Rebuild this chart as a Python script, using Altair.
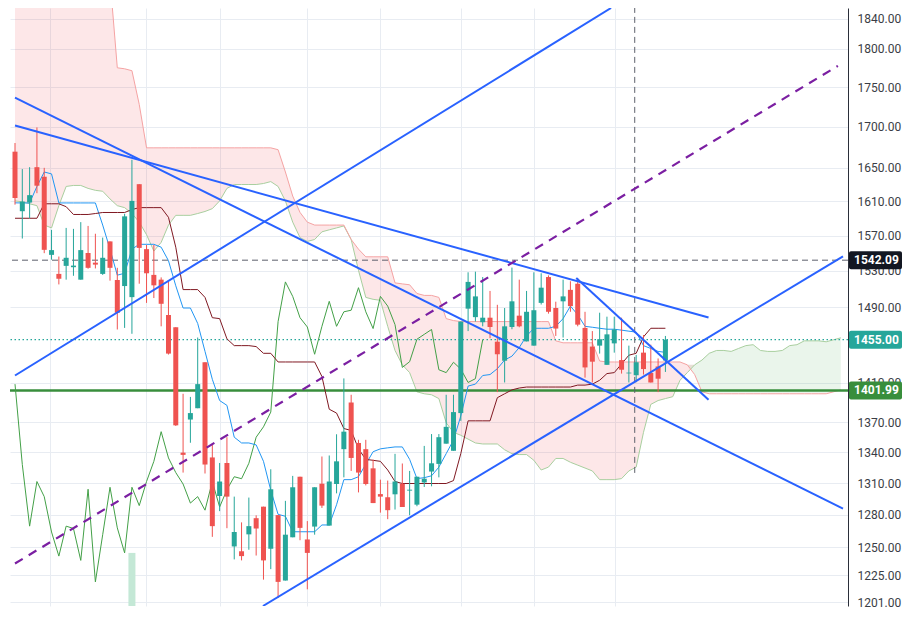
import altair as alt
import pandas as pd

# ---------------- data (prices) ----------------
opens = [1669.4, 1598.3, 1608.5, 1650.6, 1639.1, 1548.1, 1526.7, 1535.7, 1534.2, 1520.3,
         1550.2, 1539.3, 1526.7, 1563.4, 1519.9, 1513.2, 1501.0, 1630.2, 1554.6, 1525.6,
         1520.3, 1481.5, 1468.3, 1339.7, 1372.5, 1383.9, 1431.2, 1335.0, 1297.9, 1329.6,
         1250.9, 1246.5, 1262.0, 1277.0, 1287.8, 1248.8, 1279.9, 1220.1, 1259.3, 1316.3,
         1257.3, 1269.2, 1309.6, 1270.1, 1309.3, 1343.1, 1389.7, 1349.2, 1343.1, 1324.4,
         1299.7, 1296.7, 1299.5, 1309.6, 1303.0, 1289.7, 1310.8, 1321.3, 1328.7, 1348.5,
         1341.5, 1379.0, 1488.4, 1479.2, 1473.7, 1478.6, 1452.9, 1432.8, 1468.6, 1480.8,
         1453.2, 1448.7, 1494.7, 1523.2, 1489.1, 1496.4, 1509.0, 1515.8, 1467.6, 1447.7,
         1448.7, 1428.5, 1451.1, 1433.5, 1419.6, 1417.7, 1441.3, 1420.1, 1426.8, 1433.1]
closes = [1613.8, 1609.6, 1617.2, 1628.4, 1553.8, 1553.5, 1521.3, 1544.8, 1536.0, 1553.5,
          1533.5, 1537.1, 1544.8, 1533.5, 1483.9, 1592.3, 1610.4, 1556.0, 1527.4, 1514.0,
          1493.7, 1440.3, 1366.7, 1337.5, 1379.0, 1408.5, 1328.1, 1269.6, 1311.7, 1297.3,
          1264.2, 1242.1, 1269.6, 1267.4, 1238.2, 1304.3, 1218.9, 1261.7, 1306.2, 1268.0,
          1245.0, 1306.2, 1288.8, 1311.7, 1331.2, 1360.4, 1334.5, 1320.3, 1309.3, 1291.2,
          1297.3, 1284.5, 1311.7, 1287.5, 1303.9, 1316.3, 1314.4, 1329.3, 1354.9, 1365.2,
          1380.0, 1474.4, 1517.8, 1501.8, 1478.6, 1468.6, 1439.6, 1469.3, 1496.4, 1469.3,
          1485.0, 1486.7, 1511.4, 1485.0, 1466.9, 1501.8, 1491.2, 1471.1, 1425.8, 1431.8,
          1455.5, 1460.7, 1465.9, 1423.4, 1420.4, 1431.2, 1424.1, 1410.2, 1414.1, 1455.0]
highs = [1680.0, 1648.3, 1650.6, 1699.3, 1649.8, 1576.7, 1546.2, 1578.9, 1577.8, 1585.6,
         1581.2, 1572.2, 1567.8, 1563.4, 1533.5, 1595.3, 1659.6, 1630.2, 1559.3, 1559.3,
         1522.8, 1518.5, 1468.3, 1398.6, 1395.4, 1457.3, 1431.2, 1348.5, 1329.6, 1354.9,
         1297.3, 1273.1, 1296.4, 1279.7, 1287.8, 1323.5, 1279.9, 1293.3, 1317.1, 1316.3,
         1274.3, 1306.2, 1335.9, 1336.9, 1357.8, 1414.4, 1397.6, 1352.3, 1352.3, 1332.8,
         1313.5, 1312.6, 1338.5, 1329.1, 1321.9, 1316.3, 1346.3, 1358.0, 1358.0, 1397.6,
         1397.6, 1474.4, 1528.5, 1529.2, 1523.2, 1507.8, 1492.6, 1489.1, 1533.8, 1520.3,
         1507.8, 1528.5, 1527.4, 1525.0, 1496.0, 1520.3, 1518.5, 1522.1, 1485.0, 1464.2,
         1484.0, 1479.7, 1479.7, 1478.6, 1448.7, 1438.9, 1460.0, 1449.7, 1435.2, 1459.0]
lows = [1606.0, 1566.7, 1590.1, 1619.5, 1550.0, 1542.6, 1515.0, 1520.3, 1524.6, 1520.3,
        1532.5, 1532.8, 1525.6, 1519.2, 1465.9, 1467.6, 1461.3, 1515.8, 1494.7, 1500.0,
        1469.3, 1439.3, 1366.1, 1320.3, 1349.4, 1383.9, 1319.4, 1259.7, 1283.6, 1267.7,
        1239.1, 1238.2, 1247.9, 1242.6, 1220.9, 1230.3, 1204.6, 1220.1, 1259.3, 1256.6,
        1212.3, 1261.7, 1286.6, 1270.1, 1300.4, 1315.7, 1321.9, 1301.3, 1308.0, 1291.2,
        1282.2, 1276.1, 1285.1, 1287.5, 1279.7, 1288.2, 1306.5, 1307.1, 1315.7, 1348.5,
        1341.5, 1371.2, 1464.2, 1474.4, 1469.3, 1456.6, 1400.3, 1410.2, 1466.2, 1468.3,
        1453.2, 1448.7, 1492.9, 1483.0, 1459.0, 1457.3, 1485.0, 1469.3, 1415.2, 1410.2,
        1440.3, 1428.5, 1441.3, 1419.4, 1410.2, 1410.5, 1418.4, 1410.2, 1400.3, 1421.1]

tenkan = [1608.1, 1608.0, 1608.0, 1627.5, 1644.8, 1642.5, 1608.0, 1608.0, 1608.0, 1608.0,
          1608.0, 1608.0, 1582.2, 1554.6, 1525.3, 1527.4, 1554.6, 1560.1, 1560.1, 1560.1,
          1556.8, 1541.5, 1513.5, 1489.1, 1489.1, 1472.4, 1442.6, 1413.5, 1391.7, 1386.8,
          1354.9, 1349.2, 1349.2, 1347.3, 1331.2, 1303.4, 1280.6, 1278.8, 1264.4, 1264.4,
          1264.4, 1264.4, 1270.7, 1270.7, 1289.6, 1313.5, 1313.5, 1316.3, 1328.4, 1340.6,
          1343.4, 1344.4, 1345.3, 1345.3, 1333.1, 1314.5, 1315.4, 1317.2, 1325.6, 1338.7,
          1352.0, 1376.1, 1406.5, 1408.5, 1417.4, 1418.4, 1424.5, 1433.5, 1437.6, 1446.7,
          1459.0, 1467.2, 1467.2, 1467.2, 1469.3, 1477.6, 1491.2, 1481.8, 1469.3, 1468.3,
          1467.2, 1466.2, 1466.2, 1465.2, 1464.1, 1463.1, 1448.7, 1445.7, 1442.6, 1441.6]
kijun = [1590.1, 1590.1, 1590.1, 1590.1, 1607.0, 1607.0, 1607.0, 1603.6, 1594.5, 1594.5,
         1594.5, 1595.6, 1596.8, 1596.8, 1596.8, 1596.8, 1600.2, 1602.5, 1602.5, 1602.5,
         1602.5, 1591.2, 1556.8, 1509.3, 1509.3, 1509.3, 1500.7, 1478.6, 1477.6, 1455.9,
         1448.7, 1448.7, 1448.7, 1447.7, 1440.6, 1440.6, 1431.5, 1431.5, 1431.5, 1431.5,
         1431.5, 1431.5, 1416.4, 1382.9, 1379.0, 1363.5, 1361.6, 1343.4, 1333.1, 1332.2,
         1331.2, 1322.8, 1311.7, 1309.8, 1309.8, 1309.8, 1309.8, 1309.8, 1309.8, 1309.8,
         1312.6, 1338.7, 1371.2, 1371.2, 1371.2, 1371.2, 1394.6, 1398.6, 1402.6, 1404.5,
         1405.5, 1405.5, 1405.5, 1405.5, 1405.5, 1405.5, 1405.5, 1407.5, 1407.5, 1408.5,
         1412.5, 1419.4, 1420.4, 1429.5, 1438.6, 1440.6, 1458.0, 1467.2, 1467.2, 1467.2]

span_a = [1610.4, 1609.3, 1607.0, 1604.8, 1582.2, 1578.9, 1604.8, 1627.5, 1628.7, 1628.7,
          1625.2, 1622.9, 1621.8, 1612.7, 1604.8, 1602.5, 1595.6, 1585.6, 1571.1, 1552.4,
          1562.3, 1582.2, 1593.5, 1593.5, 1593.5, 1595.6, 1598.0, 1601.3, 1610.4, 1625.2,
          1629.8, 1629.8, 1629.8, 1629.8, 1631.0, 1633.3, 1627.5, 1610.4, 1585.6, 1567.8,
          1563.4, 1565.6, 1574.4, 1576.7, 1578.9, 1581.2, 1565.6, 1530.7, 1500.7, 1498.6,
          1497.5, 1469.3, 1443.6, 1428.5, 1420.4, 1400.6, 1398.6, 1397.6, 1393.7, 1369.3,
          1359.7, 1356.8, 1353.0, 1349.2, 1348.2, 1348.2, 1348.2, 1342.5, 1338.7, 1337.8,
          1337.8, 1332.2, 1322.8, 1325.6, 1334.0, 1334.0, 1330.3, 1327.5, 1324.7, 1321.9,
          1313.5, 1313.5, 1313.5, 1314.5, 1321.9, 1325.6, 1359.7, 1387.8, 1391.7, 1393.7,
          1395.6, 1412.5, 1420.4, 1428.5, 1433.5, 1440.6, 1443.6, 1443.6, 1442.6, 1445.7,
          1448.7, 1449.7, 1443.6, 1442.6, 1442.6, 1443.6, 1448.7, 1449.7, 1453.8, 1453.8,
          1453.8, 1452.8, 1454.9, 1457.0]
span_b = [1894.0, 1894.0, 1894.0, 1894.0, 1894.0, 1894.0, 1894.0, 1894.0, 1894.0, 1894.0,
          1894.0, 1894.0, 1894.0, 1894.0, 1775.0, 1773.7, 1771.2, 1728.1, 1674.1, 1674.1,
          1674.1, 1674.1, 1674.1, 1674.1, 1674.1, 1674.1, 1674.1, 1674.1, 1674.1, 1674.1,
          1674.1, 1674.1, 1674.1, 1674.1, 1674.1, 1674.1, 1671.8, 1644.8, 1616.1, 1596.9,
          1585.6, 1582.2, 1582.2, 1582.2, 1582.2, 1582.2, 1565.6, 1554.6, 1545.9, 1545.9,
          1545.9, 1545.9, 1516.7, 1515.6, 1514.6, 1505.0, 1502.9, 1502.9, 1500.7, 1477.6,
          1475.5, 1474.4, 1474.4, 1474.4, 1474.4, 1474.4, 1474.4, 1474.4, 1474.4, 1474.4,
          1474.4, 1474.4, 1474.4, 1474.4, 1453.8, 1451.7, 1451.7, 1451.7, 1451.7, 1451.7,
          1432.5, 1431.5, 1431.5, 1431.5, 1431.5, 1431.5, 1431.5, 1431.5, 1431.5, 1431.5,
          1431.5, 1431.5, 1428.5, 1418.4, 1400.6, 1398.6, 1398.6, 1398.6, 1398.6, 1398.6,
          1398.6, 1398.6, 1398.6, 1398.6, 1398.6, 1398.6, 1398.6, 1398.6, 1398.6, 1398.6,
          1398.6, 1398.6, 1400.6, 1402.6]

chikou_shift = 25
volume_bar_index = [16]
volume_bar_top = [1245.0]

# trend lines: (bar index, price) start -> end
tl_x1 = [0.0, 33.93, 0.0, 0.0, 76.8]
tl_y1 = [1417.4, 1197.6, 1701.6, 1736.6, 1522.1]
tl_x2 = [81.56, 113.3, 94.9, 113.3, 94.9]
tl_y2 = [1854.3, 1546.5, 1478.9, 1286.0, 1392.6]
purple_x = [0.0, 112.6]
purple_y = [1235.4, 1777.5]

crosshair_x = [84.8]
crosshair_bottom = [1320.0]

y_ticks = [1201, 1225, 1250, 1280, 1310, 1340, 1370, 1410, 1490, 1530,
           1570, 1610, 1650, 1700, 1750, 1800, 1840]
v_grid = [4.76, 17.98, 28.02, 39.92, 49.97, 61.07, 70.99, 82.09]

price_marks = [1542.09, 1455.00, 1401.99]
price_texts = ["1542.09", "1455.00", "1401.99"]
price_colors = ["#131722", "#26a69a", "#388e3c"]

# ---------------- frames ----------------
n = len(opens)
candles = pd.DataFrame({"i": list(range(n)), "open": opens, "high": highs,
                        "low": lows, "close": closes, "tenkan": tenkan, "kijun": kijun})
candles["dir"] = ["up" if c >= o else "down" for o, c in zip(opens, closes)]

chikou = pd.DataFrame({"i": list(range(n - chikou_shift)), "v": closes[chikou_shift:]})

cloud = pd.DataFrame({"i": list(range(len(span_a))), "a": span_a, "b": span_b})
cloud["top"] = cloud[["a", "b"]].max(axis=1)

trend = pd.DataFrame({"x1": tl_x1, "y1": tl_y1, "x2": tl_x2, "y2": tl_y2})
purple = pd.DataFrame({"x1": [purple_x[0]], "y1": [purple_y[0]], "x2": [purple_x[1]], "y2": [purple_y[1]]})
vol = pd.DataFrame({"i": volume_bar_index, "top": volume_bar_top, "bottom": [1197.6]})
cross = pd.DataFrame({"x": crosshair_x, "y": crosshair_bottom, "y2": [1854.3]})
labels = pd.DataFrame({"price": price_marks, "text": price_texts, "color": price_colors})

W, H = 838, 598
XDOM = [0, 113.3]
YDOM = [1197.6, 1854.3]

xs = alt.Scale(domain=XDOM, nice=False, zero=False)
ys = alt.Scale(type="log", domain=YDOM, nice=False, zero=False)

x_axis = alt.Axis(values=v_grid, labels=False, ticks=False, domain=False, grid=True,
                  gridColor="#e8ecf2", gridWidth=1, title=None)
y_axis = alt.Axis(orient="right", values=y_ticks, format=".2f", title=None, grid=True,
                  gridColor="#e8ecf2", gridWidth=1, ticks=False, domain=True,
                  domainColor="#2a2e39", domainWidth=1, labelColor="#3a3d45",
                  labelFontSize=12, labelPadding=9, labelFont="Roboto")


def X(f):
    return alt.X(f, type="quantitative", scale=xs, axis=x_axis)


def Y(f):
    return alt.Y(f, type="quantitative", scale=ys, axis=y_axis)


pink = alt.Chart(cloud).mark_area(color="#f23645", opacity=0.12, clip=True).encode(
    x=X("i"), y=Y("a"), y2=alt.Y2("top"))
green = alt.Chart(cloud).mark_area(color="#43a047", opacity=0.11, clip=True).encode(
    x=X("i"), y=Y("b"), y2=alt.Y2("top"))
edge_a = alt.Chart(cloud).mark_line(color="#a9cf9f", strokeWidth=1, clip=True).encode(
    x=X("i"), y=Y("a"))
edge_b = alt.Chart(cloud).mark_line(color="#f5a3a3", strokeWidth=1, clip=True).encode(
    x=X("i"), y=Y("b"))

volbar = alt.Chart(vol).mark_bar(width=7, color="#c4e8d6", clip=True).encode(
    x=X("i"), y=Y("bottom"), y2=alt.Y2("top"))

hl_dash = alt.Chart(labels.iloc[[0]]).mark_rule(color="#5d606b", strokeDash=[6, 4], strokeWidth=1).encode(y=Y("price"))
hl_dot = alt.Chart(labels.iloc[[1]]).mark_rule(color="#26a69a", strokeDash=[1.5, 2.5], strokeWidth=1.2).encode(y=Y("price"))
hl_solid = alt.Chart(labels.iloc[[2]]).mark_rule(color="#388e3c", strokeWidth=2.5).encode(y=Y("price"))

vcross = alt.Chart(cross).mark_rule(color="#5d606b", strokeDash=[6, 4], strokeWidth=1, clip=True).encode(
    x=X("x"), y=Y("y"), y2=alt.Y2("y2"))

chik = alt.Chart(chikou).mark_line(color="#43a047", strokeWidth=1, clip=True).encode(x=X("i"), y=Y("v"))
tk = alt.Chart(candles).mark_line(color="#2196f3", strokeWidth=1, clip=True).encode(x=X("i"), y=Y("tenkan"))
kj = alt.Chart(candles).mark_line(color="#801922", strokeWidth=1, clip=True).encode(x=X("i"), y=Y("kijun"))

col = alt.Color("dir:N", scale=alt.Scale(domain=["up", "down"], range=["#26a69a", "#ef5350"]), legend=None)
wick = alt.Chart(candles).mark_rule(strokeWidth=1, clip=True).encode(
    x=X("i"), y=Y("low"), y2=alt.Y2("high"), color=col)
body = alt.Chart(candles).mark_bar(width=5, clip=True).encode(
    x=X("i"), y=Y("open"), y2=alt.Y2("close"), color=col)

trendlines = alt.Chart(trend).mark_rule(color="#2962ff", strokeWidth=2, clip=True).encode(
    x=X("x1"), y=Y("y1"), x2=alt.X2("x2"), y2=alt.Y2("y2"))
purple_line = alt.Chart(purple).mark_rule(color="#7b1fa2", strokeWidth=2.2, strokeDash=[9, 7], clip=True).encode(
    x=X("x1"), y=Y("y1"), x2=alt.X2("x2"), y2=alt.Y2("y2"))

boxes = alt.Chart(labels).mark_rect(height=18, cornerRadius=2).encode(
    x=alt.value(W + 1), x2=alt.value(W + 54), y=Y("price"),
    color=alt.Color("color:N", scale=None))
box_text = alt.Chart(labels).mark_text(align="left", baseline="middle", color="white",
                                       fontSize=12, fontWeight="bold", font="Roboto").encode(
    x=alt.value(W + 6), y=Y("price"), text="text:N")

chart = alt.layer(
    pink, green, edge_a, edge_b, volbar, hl_dash, hl_dot, hl_solid, vcross,
    chik, tk, kj, wick, body, trendlines, purple_line, boxes, box_text
).properties(width=W, height=H, padding=0, background="white").configure_view(stroke=None)

chart.save("out.html", embed_options={"renderer": "svg", "actions": False})
